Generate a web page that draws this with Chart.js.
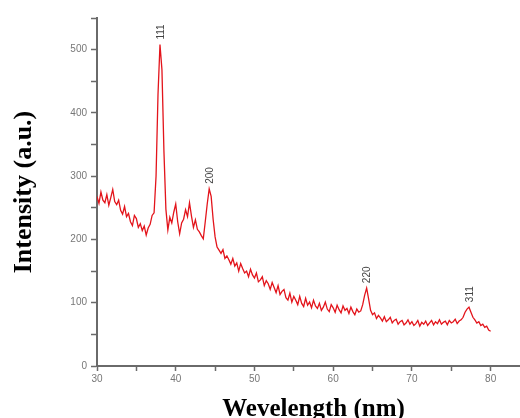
<!DOCTYPE html>
<html lang="en">
<head>
    <meta charset="UTF-8">
    <title>XRD pattern</title>
    <script src="https://cdn.jsdelivr.net/npm/chart.js"></script>
    <style>
        html, body { margin: 0; padding: 0; background: #fff; }
        #wrap { width: 520px; height: 418px; overflow: hidden; }
    </style>
</head>
<body>
    <div id="wrap">
        <canvas id="xrdChart" width="535" height="418"></canvas>
    </div>

    <script>
        // x positions (step 0.25)
        const wavelength = [
            30, 30.25, 30.5, 30.75, 31, 31.25, 31.5, 31.75, 32, 32.25, 32.5, 32.75, 33, 33.25, 33.5, 33.75,
            34, 34.25, 34.5, 34.75, 35, 35.25, 35.5, 35.75, 36, 36.25, 36.5, 36.75, 37, 37.25, 37.5, 37.75,
            38, 38.25, 38.5, 38.75, 39, 39.25, 39.5, 39.75, 40, 40.25, 40.5, 40.75, 41, 41.25, 41.5, 41.75,
            42, 42.25, 42.5, 42.75, 43, 43.25, 43.5, 43.75, 44, 44.25, 44.5, 44.75, 45, 45.25, 45.5, 45.75,
            46, 46.25, 46.5, 46.75, 47, 47.25, 47.5, 47.75, 48, 48.25, 48.5, 48.75, 49, 49.25, 49.5, 49.75,
            50, 50.25, 50.5, 50.75, 51, 51.25, 51.5, 51.75, 52, 52.25, 52.5, 52.75, 53, 53.25, 53.5, 53.75,
            54, 54.25, 54.5, 54.75, 55, 55.25, 55.5, 55.75, 56, 56.25, 56.5, 56.75, 57, 57.25, 57.5, 57.75,
            58, 58.25, 58.5, 58.75, 59, 59.25, 59.5, 59.75, 60, 60.25, 60.5, 60.75, 61, 61.25, 61.5, 61.75,
            62, 62.25, 62.5, 62.75, 63, 63.25, 63.5, 63.75, 64, 64.25, 64.5, 64.75, 65, 65.25, 65.5, 65.75,
            66, 66.25, 66.5, 66.75, 67, 67.25, 67.5, 67.75, 68, 68.25, 68.5, 68.75, 69, 69.25, 69.5, 69.75,
            70, 70.25, 70.5, 70.75, 71, 71.25, 71.5, 71.75, 72, 72.25, 72.5, 72.75, 73, 73.25, 73.5, 73.75,
            74, 74.25, 74.5, 74.75, 75, 75.25, 75.5, 75.75, 76, 76.25, 76.5, 76.75, 77, 77.25, 77.5, 77.75,
            78, 78.25, 78.5, 78.75, 79, 79.25, 79.5, 79.75, 80
        ];

        const intensity = [
            268, 257, 275, 262, 258, 271, 254, 266, 279, 260, 255, 262, 246, 240, 252, 236,
            241, 228, 222, 238, 233, 219, 225, 214, 221, 207, 218, 224, 238, 242, 300, 430,
            508, 468, 340, 248, 215, 235, 226, 243, 256, 228, 209, 226, 232, 247, 236, 258,
            237, 219, 231, 216, 212, 206, 201, 228, 256, 280, 268, 232, 204, 188, 183, 178,
            184, 170, 174, 168, 161, 170, 158, 163, 150, 162, 154, 147, 150, 141, 153, 144,
            139, 147, 133, 136, 141, 127, 135, 130, 121, 132, 124, 116, 127, 113, 118, 121,
            108, 104, 115, 101, 110, 104, 97, 110, 99, 94, 107, 96, 101, 92, 104, 95,
            91, 99, 88, 93, 101, 90, 86, 97, 92, 85, 96, 89, 84, 95, 88, 91,
            83, 93, 86, 81, 90, 85, 87, 97, 112, 123, 106, 88, 81, 84, 75, 80,
            76, 71, 78, 70, 73, 77, 68, 72, 74, 66, 70, 72, 65, 68, 73, 66,
            70, 64, 67, 72, 63, 69, 66, 71, 64, 68, 72, 65, 70, 67, 73, 66,
            69, 71, 65, 72, 68, 70, 74, 67, 71, 73, 77, 85, 90, 93, 85, 77,
            73, 68, 70, 64, 66, 61, 63, 57, 55
        ];

        // peak annotations
        const peakLabels = ['111', '200', '220', '311'];
        const peakX = [38, 44.25, 64.25, 77.25];
        const peakY = [508, 280, 123, 93];

        const xTicks = [30, 40, 50, 60, 70, 80];
        const yTicks = [0, 100, 200, 300, 400, 500];

        const points = wavelength.map((x, i) => ({ x: x, y: intensity[i] }));

        const axisGrey = '#6a6a6a';
        const labelGrey = '#777';

        const peakLabelPlugin = {
            id: 'peakLabels',
            afterDatasetsDraw(chart) {
                const ctx = chart.ctx;
                const xs = chart.scales.x;
                const ys = chart.scales.y;
                ctx.save();
                ctx.font = '10px "Liberation Sans", Arial, sans-serif';
                ctx.fillStyle = '#444';
                ctx.textAlign = 'left';
                ctx.textBaseline = 'middle';
                peakLabels.forEach((lbl, i) => {
                    const px = xs.getPixelForValue(peakX[i]);
                    const py = ys.getPixelForValue(peakY[i]) - 5;
                    ctx.save();
                    ctx.translate(px + 1, py);
                    ctx.rotate(-Math.PI / 2);
                    ctx.fillText(lbl, 0, 0);
                    ctx.restore();
                });
                ctx.restore();
            }
        };

        new Chart(document.getElementById('xrdChart'), {
            type: 'line',
            data: {
                datasets: [{
                    data: points,
                    borderColor: '#e3141b',
                    borderWidth: 1.3,
                    pointRadius: 0,
                    tension: 0,
                    fill: false
                }]
            },
            options: {
                responsive: false,
                animation: false,
                devicePixelRatio: 1,
                layout: { padding: { top: 18, right: 5, left: 0, bottom: 0 } },
                plugins: {
                    legend: { display: false },
                    tooltip: { enabled: false }
                },
                scales: {
                    x: {
                        type: 'linear',
                        min: 30,
                        max: 85,
                        afterFit: (s) => { s.height = 52; },
                        ticks: {
                            stepSize: 5,
                            autoSkip: false,
                            maxRotation: 0,
                            padding: 2,
                            color: labelGrey,
                            font: { family: '"Liberation Sans", Arial, sans-serif', size: 10 },
                            callback: (v) => xTicks.includes(v) ? String(v) : ''
                        },
                        grid: {
                            drawOnChartArea: false,
                            drawTicks: true,
                            tickLength: 5,
                            tickColor: axisGrey,
                            tickWidth: 1.5
                        },
                        border: { display: true, color: axisGrey, width: 2 },
                        title: {
                            display: true,
                            text: 'Wevelength (nm)',
                            color: '#000',
                            font: { family: '"Liberation Serif", "Times New Roman", serif', size: 25, weight: 'bold' },
                            padding: { top: 0, bottom: -7 }
                        }
                    },
                    y: {
                        min: 0,
                        max: 550,
                        afterFit: (s) => { s.width = 97; },
                        ticks: {
                            stepSize: 50,
                            autoSkip: false,
                            padding: 4,
                            color: labelGrey,
                            font: { family: '"Liberation Sans", Arial, sans-serif', size: 10 },
                            callback: (v) => yTicks.includes(v) ? String(v) : ''
                        },
                        grid: {
                            drawOnChartArea: false,
                            drawTicks: true,
                            tickLength: 6,
                            tickColor: axisGrey,
                            tickWidth: 1.5
                        },
                        border: { display: true, color: axisGrey, width: 2 },
                        title: {
                            display: true,
                            text: 'Intensity (a.u.)',
                            color: '#000',
                            font: { family: '"Liberation Serif", "Times New Roman", serif', size: 26, weight: 'bold' },
                            padding: { top: 9, bottom: 0 }
                        }
                    }
                }
            },
            plugins: [peakLabelPlugin]
        });
    </script>
</body>
</html>
